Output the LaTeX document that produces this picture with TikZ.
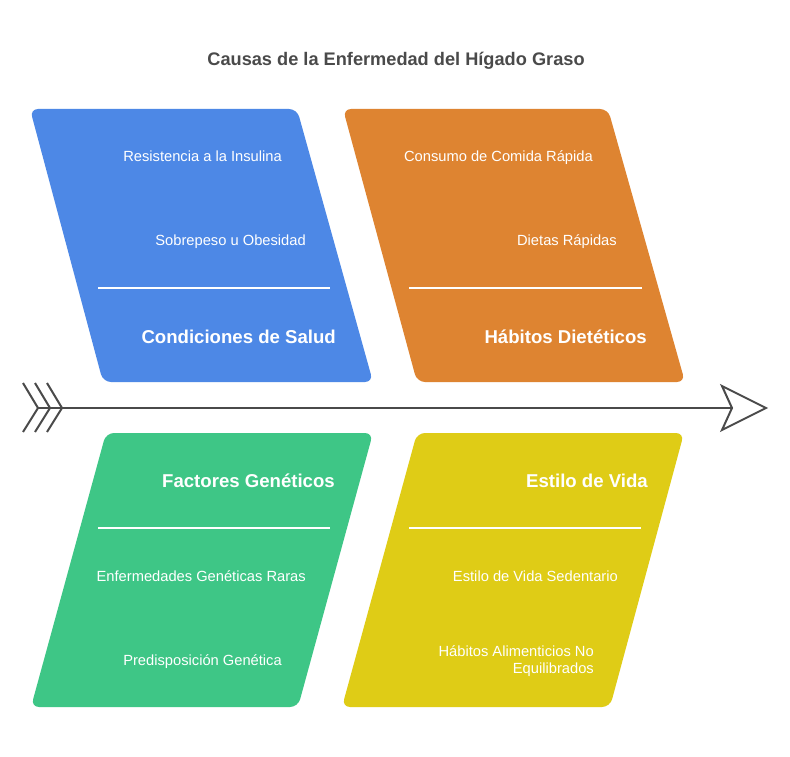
\documentclass[tikz,border=0pt]{standalone}
\usepackage{fontspec}
\setmainfont{Liberation Sans}
\definecolor{cblue}{RGB}{77,136,230}
\definecolor{corange}{RGB}{222,132,49}
\definecolor{cgreen}{RGB}{62,198,134}
\definecolor{cyellow}{RGB}{223,204,22}
\definecolor{cgray}{RGB}{74,74,74}
\tikzset{
  panel/.style={rounded corners=8pt},
  divider/.style={draw=white, line width=1.8pt},
  bodytxt/.style={text=white, font=\fontsize{14.7}{17}\selectfont, anchor=base east, inner sep=0pt, align=right},
  headtxt/.style={text=white, font=\bfseries\fontsize{18.6}{22}\selectfont, anchor=base east, inner sep=0pt},
  spine/.style={draw=cgray, line width=2pt},
}
\begin{document}
\begin{tikzpicture}[x=1pt,y=-1pt]
\useasboundingbox (0,0) rectangle (790,757);
\fill[white] (0,0) rectangle (790,757);

% title
\node[text=cgray, font=\bfseries\fontsize{18.2}{22}\selectfont, anchor=base, inner sep=0pt] (title) at (396,66) {Causas de la Enfermedad del Hígado Graso};

% panels
\fill[cblue, panel] (30,109) -- (297,109) -- (373,382) -- (103,382) -- cycle;
\fill[corange, panel] (343,109) -- (608,109) -- (685,382) -- (417,382) -- cycle;
\fill[cgreen, panel] (106,433) -- (373,433) -- (298,707) -- (31,707) -- cycle;
\fill[cyellow, panel] (417,433) -- (684,433) -- (610,707) -- (342,707) -- cycle;

% dividers
\draw[divider] (98,288) -- (330,288);
\draw[divider] (409,288) -- (642,288);
\draw[divider] (98,528) -- (330,528);
\draw[divider] (409,528) -- (641,528);

% blue texts
\node[bodytxt] (b1) at (282,161) {Resistencia a la Insulina};
\node[bodytxt] (b2) at (306,245) {Sobrepeso u Obesidad};
\node[headtxt] (bh) at (336,343) {Condiciones de Salud};
% orange texts
\node[bodytxt] (o1) at (593,161) {Consumo de Comida Rápida};
\node[bodytxt] (o2) at (617,245) {Dietas Rápidas};
\node[headtxt] (oh) at (647,343) {Hábitos Dietéticos};
% green texts
\node[headtxt] (gh) at (335,487) {Factores Genéticos};
\node[bodytxt] (g1) at (306,581) {Enfermedades Genéticas Raras};
\node[bodytxt] (g2) at (282,665) {Predisposición Genética};
% yellow texts
\node[headtxt] (yh) at (648,487) {Estilo de Vida};
\node[bodytxt] (y1) at (618,581) {Estilo de Vida Sedentario};
\node[bodytxt] (y2) at (594,673) {Hábitos Alimenticios No\\Equilibrados};

% spine
\coordinate (tail) at (38,408);
\coordinate (notch) at (732,408);
\draw[spine] (tail) -- (notch);
\draw[spine, line join=miter] (23,383) -- (38,408) -- (23,432);
\draw[spine, line join=miter] (35,383) -- (50,408) -- (35,432);
\draw[spine, line join=miter] (47,383) -- (62,408) -- (47,432);
\draw[spine, fill=white, line join=miter] (722,386) -- (766,408) -- (722,430) -- (notch) -- cycle;
\end{tikzpicture}
\end{document}
